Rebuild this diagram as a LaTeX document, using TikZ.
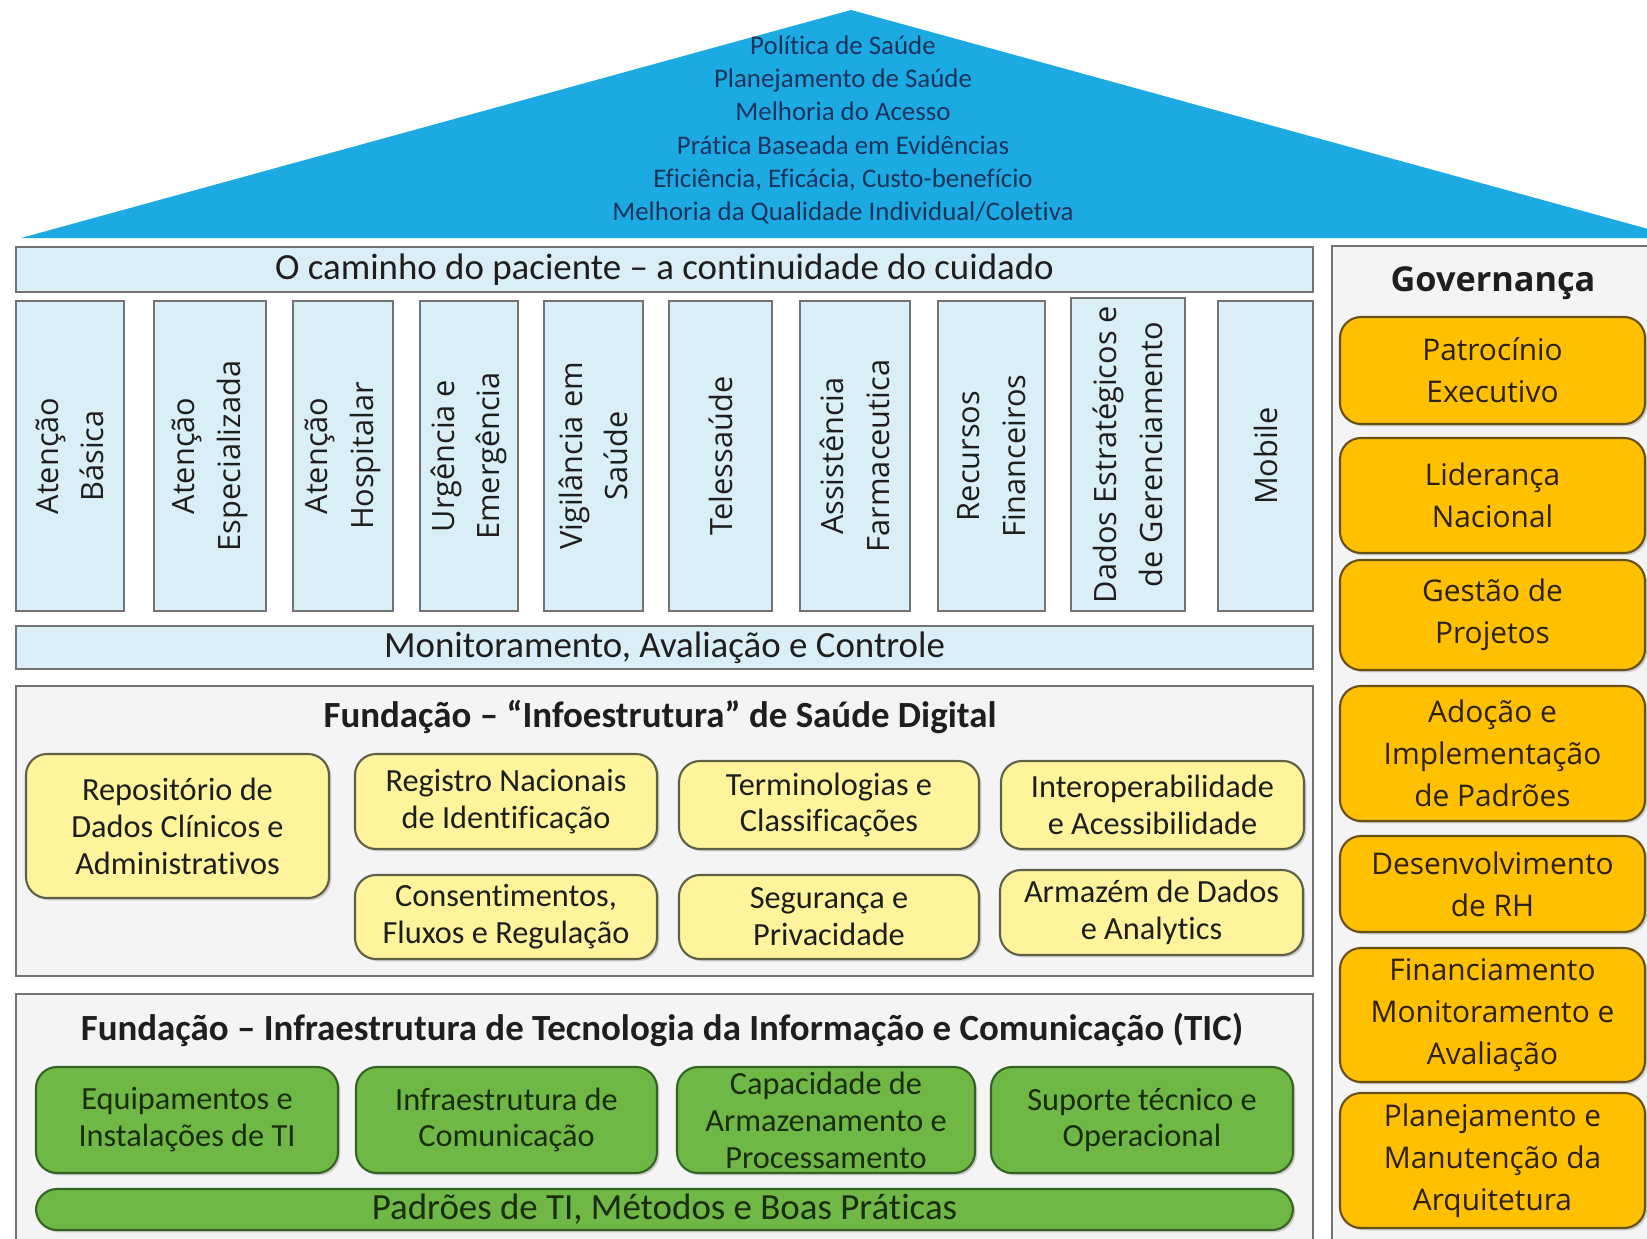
\documentclass[tikz,border=0pt]{standalone}
\usepackage{fontspec}
\setmainfont{Carlito}[Ligatures=NoCommon]
\newfontfamily\widefont{Open Sans}
\usetikzlibrary{shadows}
\definecolor{roofblue}{RGB}{28,170,226}
\definecolor{roofink}{RGB}{28,52,92}
\definecolor{paleblue}{RGB}{218,238,247}
\definecolor{panelgray}{RGB}{244,244,244}
\definecolor{edgegray}{RGB}{115,115,115}
\definecolor{paleyellow}{RGB}{255,243,155}
\definecolor{yedge}{RGB}{95,95,70}
\definecolor{leafgreen}{RGB}{112,184,70}
\definecolor{gedge}{RGB}{50,100,35}
\definecolor{amber}{RGB}{255,192,0}
\definecolor{aedge}{RGB}{105,80,25}
\definecolor{ink}{RGB}{30,30,30}
\tikzset{
  base/.style={inner sep=0pt, outer sep=0pt, align=center, text=ink},
  bluebar/.style={base, draw=edgegray, fill=paleblue, line width=1.2pt, font=\fontsize{21}{25}\selectfont},
  pillar/.style={bluebar, rotate=90, font=\widefont\fontsize{17.5}{26}\selectfont},
  panel/.style={base, draw=edgegray, fill=panelgray, line width=1.2pt},
  paneltitle/.style={base, font=\bfseries\fontsize{21}{25}\selectfont},
  softshadow/.style={drop shadow={shadow xshift=1.3pt, shadow yshift=-1.3pt, opacity=0.35}},
  ybox/.style={base, draw=yedge, fill=paleyellow, rounded corners=0.42cm, line width=1.2pt, softshadow, font=\fontsize{18.4}{21}\selectfont},
  gbox/.style={base, draw=gedge, fill=leafgreen, rounded corners=0.42cm, line width=1.2pt, softshadow, text={rgb,255:red,25;green,45;blue,15}, font=\fontsize{18.4}{21}\selectfont},
  obox/.style={base, draw=aedge, fill=amber, rounded corners=0.42cm, line width=1.2pt, softshadow, text={rgb,255:red,45;green,32;blue,5}, font=\widefont\fontsize{17}{24}\selectfont},
}
\newcommand\mkbox[7]{\node[#2, minimum width={(#5-#3)*0.02cm}, minimum height={(#6-#4)*0.02cm}] (#1) at ({(#3+#5)/2},{(#4+#6)/2}) {#7};}
\newcommand\mkpillar[6]{\node[pillar, minimum width={(#5-#3)*0.02cm}, minimum height={(#4-#2)*0.02cm}] (#1) at ({(#2+#4)/2},{(#3+#5)/2}) {#6};}
\begin{document}
\begin{tikzpicture}[x=0.02cm, y=-0.02cm]
\useasboundingbox (0,0) rectangle (1647,1238);
\clip (0,0) rectangle (1647,1238);
\fill[white] (0,0) rectangle (1647,1238);
% roof
\fill[roofblue] (21,238) -- (851,10) -- (1681,238) -- cycle;
\node[base, text=roofink, font=\fontsize{15.3}{18.9}\selectfont] (rooftext) at (843,130)
  {Política de Saúde\\Planejamento de Saúde\\Melhoria do Acesso\\Prática Baseada em Evidências\\Eficiência, Eficácia, Custo-benefício\\Melhoria da Qualidade Individual/Coletiva};
% patient path bar
\mkbox{path}{bluebar}{16}{247}{1313}{292}{O caminho do paciente – a continuidade do cuidado}
% pillars
\mkpillar{p1}{16}{301}{124}{611}{Atenção\\Básica}
\mkpillar{p2}{154}{301}{266}{611}{Atenção\\Especializada}
\mkpillar{p3}{293}{301}{393}{611}{Atenção\\Hospitalar}
\mkpillar{p4}{420}{301}{518}{611}{Urgência e\\Emergência}
\mkpillar{p5}{544}{301}{643}{611}{Vigilância em\\Saúde}
\mkpillar{p6}{669}{301}{772}{611}{Telessaúde}
\mkpillar{p7}{800}{301}{910}{611}{Assistência\\Farmaceutica}
\mkpillar{p8}{938}{301}{1045}{611}{Recursos\\Financeiros}
\mkpillar{p9}{1071}{298}{1185}{611}{Dados Estratégicos e\\de Gerenciamento}
\mkpillar{p10}{1218}{301}{1313}{611}{Mobile}
% monitoring bar
\mkbox{mon}{bluebar}{16}{626}{1313}{669}{Monitoramento, Avaliação e Controle}
% infostructure panel
\mkbox{info}{panel}{16}{686}{1313}{976}{}
\node[paneltitle] (infotitle) at (660,717) {Fundação – “Infoestrutura” de Saúde Digital};
\mkbox{y1}{ybox}{26}{754}{329}{898}{Repositório de\\Dados Clínicos e\\Administrativos}
\mkbox{y2}{ybox}{355}{754}{657}{849}{Registro Nacionais\\de Identificação}
\mkbox{y3}{ybox}{679}{761}{979}{849}{Terminologias e\\Classificações}
\mkbox{y4}{ybox}{1001}{761}{1304}{849}{Interoperabilidade\\e Acessibilidade}
\mkbox{y5}{ybox}{355}{875}{657}{959}{Consentimentos,\\Fluxos e Regulação}
\mkbox{y6}{ybox}{679}{875}{979}{959}{Segurança e\\Privacidade}
\mkbox{y7}{ybox}{1000}{870}{1303}{955}{Armazém de Dados\\e Analytics}
% ICT panel
\mkbox{tic}{panel}{16}{994}{1313}{1260}{}
\node[paneltitle] (tictitle) at (662,1030) {Fundação – Infraestrutura de Tecnologia da Informação e Comunicação (TIC)};
\mkbox{g1}{gbox}{36}{1067}{338}{1173}{Equipamentos e\\Instalações de TI}
\mkbox{g2}{gbox}{356}{1067}{657}{1173}{Infraestrutura de\\Comunicação}
\mkbox{g3}{gbox}{677}{1067}{975}{1173}{\fontsize{18.4}{23}\selectfont Capacidade de\\Armazenamento e\\Processamento}
\mkbox{g4}{gbox}{991}{1067}{1293}{1173}{Suporte técnico e\\Operacional}
\mkbox{g5}{gbox}{36}{1189}{1293}{1230}{\fontsize{21}{25}\selectfont Padrões de TI, Métodos e Boas Práticas}
% governance
\mkbox{gov}{panel}{1332}{246}{1670}{1260}{}
\node[base, font=\widefont\bfseries\fontsize{19.5}{23}\selectfont] (govtitle) at (1493,283) {Governança};
\mkbox{o1}{obox}{1340}{317}{1645}{424}{Patrocínio\\Executivo}
\mkbox{o2}{obox}{1340}{438}{1645}{553}{Liderança\\Nacional}
\mkbox{o3}{obox}{1340}{560}{1645}{670}{Gestão de\\Projetos}
\mkbox{o4}{obox}{1340}{686}{1645}{821}{Adoção e\\Implementação\\de Padrões}
\mkbox{o5}{obox}{1340}{836}{1645}{932}{Desenvolvimento\\de RH}
\mkbox{o6}{obox}{1340}{948}{1645}{1082}{Financiamento\\Monitoramento e\\Avaliação}
\mkbox{o7}{obox}{1340}{1093}{1645}{1228}{Planejamento e\\Manutenção da\\Arquitetura}
\end{tikzpicture}
\end{document}
